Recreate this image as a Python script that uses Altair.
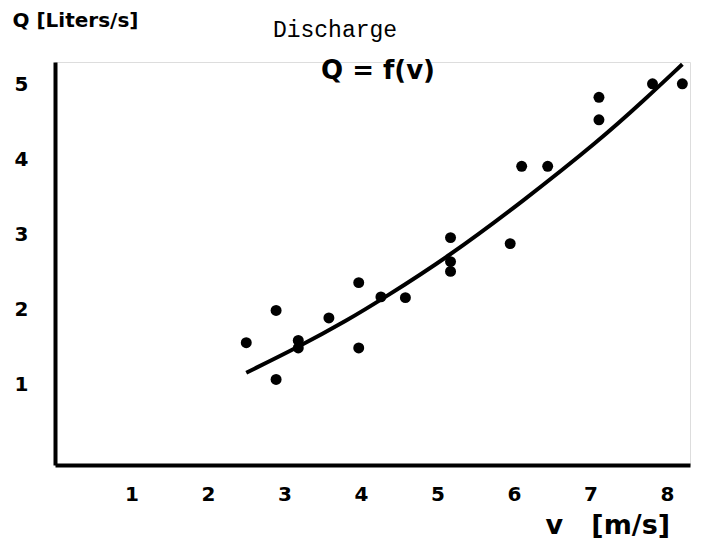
import altair as alt
import pandas as pd

# scatter data (v in m/s, Q in liters/s)
v_pts = [2.50, 2.89, 2.89, 3.18, 3.18, 3.58, 3.97, 3.97, 4.26, 4.58,
         5.17, 5.17, 5.17, 5.95, 6.10, 6.44, 7.11, 7.11, 7.81, 8.20]
q_pts = [1.56, 1.99, 1.07, 1.59, 1.49, 1.89, 2.36, 1.49, 2.17, 2.16,
         2.96, 2.64, 2.51, 2.88, 3.91, 3.91, 4.53, 4.83, 5.01, 5.01]

# fitted curve
v_fit = [2.50, 3.18, 3.84, 4.26, 5.15, 6.11, 7.11, 7.71, 8.20]
q_fit = [1.16, 1.50, 1.87, 2.13, 2.71, 3.44, 4.25, 4.80, 5.27]

x_ticks = [1, 2, 3, 4, 5, 6, 7, 8]
y_ticks = [1, 2, 3, 4, 5]

pts = pd.DataFrame({"v": v_pts, "Q": q_pts})
fit = pd.DataFrame({"v": v_fit, "Q": q_fit})

xs = alt.Scale(domain=[0, 8.3], nice=False, zero=False)
ys = alt.Scale(domain=[-0.07, 5.3], nice=False, zero=False)

FONT = "DejaVu Sans"

xax = alt.Axis(values=x_ticks, format="d", ticks=False, grid=False, domainWidth=4, domainColor="black",
               labelFont=FONT, labelFontWeight="bold", labelFontSize=20, labelColor="black",
               labelPadding=19, title="v\u00a0\u00a0\u00a0[m/s]", titleFont=FONT, titleFontWeight="bold",
               titleFontSize=27, titleColor="black", titleAnchor="start", titleAlign="left",
               titleX=490, titleY=60, titleBaseline="middle")
yax = alt.Axis(values=y_ticks, format="d", ticks=False, grid=False, domainWidth=4, domainColor="black",
               labelFont=FONT, labelFontWeight="bold", labelFontSize=20, labelColor="black",
               labelPadding=27, title="Q [Liters/s]", titleFont=FONT, titleFontWeight="bold",
               titleFontSize=20, titleColor="black", titleAngle=0, titleAlign="left",
               titleX=-43, titleY=-42, titleBaseline="middle")

points = alt.Chart(pts).mark_circle(size=120, color="black", opacity=1).encode(
    x=alt.X("v:Q", scale=xs, axis=xax),
    y=alt.Y("Q:Q", scale=ys, axis=yax),
)

curve = alt.Chart(fit).mark_line(color="black", strokeWidth=4, interpolate="basis").encode(
    x=alt.X("v:Q", scale=xs),
    y=alt.Y("Q:Q", scale=ys),
)

title1 = alt.Chart(pd.DataFrame({"t": ["Discharge"]})).mark_text(
    font="Liberation Mono", fontSize=23, color="black", align="center", baseline="middle"
).encode(text="t:N", x=alt.value(280), y=alt.value(-32))

title2 = alt.Chart(pd.DataFrame({"t": ["Q = f(v)"]})).mark_text(
    font=FONT, fontSize=26, fontWeight="bold", color="black", align="center", baseline="middle"
).encode(text="t:N", x=alt.value(323), y=alt.value(9))

chart = alt.layer(curve, points, title1, title2).properties(
    width=635, height=403,
    autosize=alt.AutoSizeParams(type="none"),
    padding={"left": 47, "top": 54, "right": 10, "bottom": 80},
).configure_view(stroke=None).configure(background="white")

chart.save("out.html", embed_options={"renderer": "svg", "actions": False})
